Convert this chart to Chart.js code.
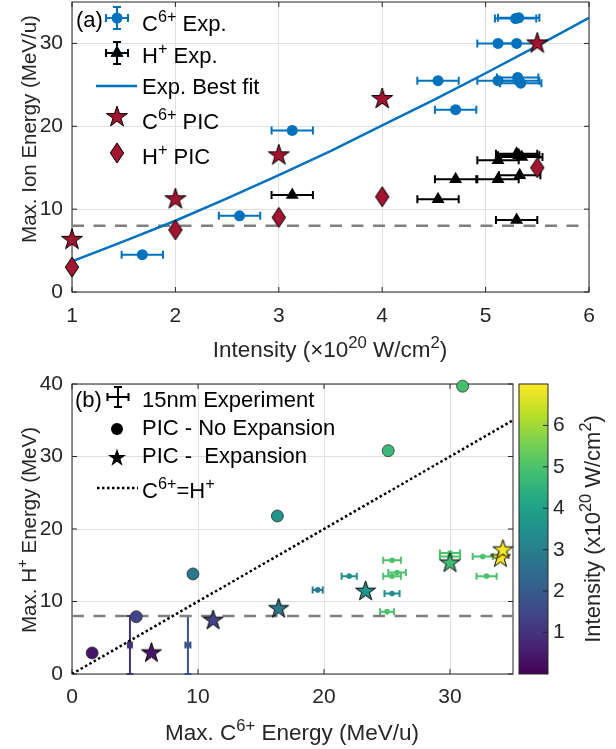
<!DOCTYPE html>
<html>
<head>
<meta charset="utf-8">
<script src="https://cdn.jsdelivr.net/npm/chart.js@4.4.0/dist/chart.umd.min.js"></script>
<style>
  html, body { margin: 0; padding: 0; background: #fff; }
  #wrap { position: relative; width: 616px; height: 749px; }
  #chartA { position: absolute; left: 0; top: 0; }
  #chartB { position: absolute; left: 0; top: 375px; }
</style>
</head>
<body>
<div id="wrap">
  <canvas id="chartA" width="616" height="375"></canvas>
  <canvas id="chartB" width="616" height="374"></canvas>
</div>
<script>
// --- Panel (a) data: intensity (x10^20 W/cm^2) vs max ion energy (MeV/u) ---
const cExpIntensity = [1.68, 2.62, 3.13, 4.54, 4.71, 5.12, 5.31, 5.34, 5.32, 5.12, 5.30, 5.29, 5.32];
const cExpEnergy    = [4.5, 9.2, 19.5, 25.5, 22.0, 25.5, 25.9, 25.2, 25.5, 30.0, 30.0, 33.0, 33.1];
const hExpIntensity = [3.13, 4.54, 4.71, 5.12, 5.33, 5.12, 5.30, 5.32, 5.35, 5.30];
const hExpEnergy    = [11.7, 11.2, 13.6, 13.6, 14.1, 15.9, 16.7, 16.5, 16.3, 8.7];
const intensityErr  = 0.2;
const fitIntensity  = [1, 1.5, 2, 2.5, 3, 3.5, 4, 4.5, 5, 5.5, 6];
const fitEnergy     = [3.7, 6.1, 8.6, 11.3, 14.1, 17.0, 20.1, 23.2, 26.4, 29.7, 33.1];
const picIntensity  = [1, 2, 3, 4, 5.5];
const picCEnergy    = [6.3, 11.2, 16.5, 23.3, 30.0];
const picHEnergy    = [3.0, 7.5, 9.0, 11.5, 15.0];
const detectLimit   = 8;
const aXTicks = [1, 2, 3, 4, 5, 6];
const aYTicks = [0, 10, 20, 30];

// --- Panel (b) data: max C6+ energy (MeV/u) vs max H+ energy (MeV) ---
const noExpC = [1.6, 5.1, 9.6, 16.3, 25.1, 31.0];
const noExpH = [2.9, 7.9, 13.8, 21.8, 30.8, 39.7];
const noExpI = [0.4, 1.4, 2.8, 3.6, 4.7, 4.9];
const expanC = [6.3, 11.2, 16.4, 23.3, 30.0, 34.0, 34.2];
const expanH = [2.9, 7.4, 9.0, 11.4, 15.3, 16.0, 17.1];
const expanI = [0.4, 1.4, 2.8, 3.6, 4.8, 6.9, 6.9];
const expC    = [4.6, 9.2, 19.5, 22.0, 25.4, 25.0, 25.4, 25.8, 25.4, 30.0, 30.0, 32.6, 32.9];
const expH    = [4.0, 4.0, 11.6, 13.5, 11.1, 8.6, 13.5, 14.0, 15.7, 16.7, 16.2, 16.2, 13.5];
const expCErr = [0.15, 0.2, 0.4, 0.6, 0.6, 0.55, 0.7, 0.7, 0.7, 0.8, 0.8, 0.8, 0.8];
const expHErr = [4, 4, 0, 0, 0, 0, 0, 0, 0, 0, 0, 0, 0];
const expI    = [1.0, 1.8, 2.9, 3.5, 3.4, 5.0, 5.0, 5.0, 5.0, 5.0, 5.0, 5.0, 5.0];
const diagC = [0, 35];
const diagH = [0, 35];
const bXTicks = [0, 10, 20, 30];
const bYTicks = [0, 10, 20, 30, 40];
const cbarMin = 0, cbarMax = 7;
const cbarTicks = [1, 2, 3, 4, 5, 6];

// --- styles ---
const FONT = '"Liberation Sans", Arial, Helvetica, sans-serif';
const blue = '#0072BD', red = '#A2142F', axisCol = '#262626', gridCol = '#e0e0e0';
const font = sz => sz + 'px ' + FONT;
const pts = (xs, ys) => xs.map((v, i) => ({x: v, y: ys[i]}));

const viridisStops = ['#440154', '#482475', '#414487', '#355f8d', '#2a788e', '#21918c',
                      '#22a884', '#44bf70', '#7ad151', '#bddf26', '#fde725'];
function hexRgb(h) { return [1, 3, 5].map(k => parseInt(h.substr(k, 2), 16)); }
function viridis(v) {
  let t = Math.min(1, Math.max(0, (v - cbarMin) / (cbarMax - cbarMin))) * 10;
  const i = Math.min(9, Math.floor(t)), f = t - i;
  const a = hexRgb(viridisStops[i]), b = hexRgb(viridisStops[i + 1]);
  return 'rgb(' + a.map((c, k) => Math.round(c + (b[k] - c) * f)).join(',') + ')';
}

// --- marker images ---
function starPath(g, cx, cy, R) {
  g.beginPath();
  for (let k = 0; k < 10; k++) {
    const r = k % 2 ? R * 0.382 : R, ang = -Math.PI / 2 + k * Math.PI / 5;
    const px = cx + r * Math.cos(ang), py = cy + r * Math.sin(ang);
    k ? g.lineTo(px, py) : g.moveTo(px, py);
  }
  g.closePath();
}
function starImage(fill, R) {
  const s = Math.ceil(2 * R + 4), c = document.createElement('canvas');
  c.width = s; c.height = s;
  const g = c.getContext('2d');
  starPath(g, s / 2, s / 2, R);
  g.fillStyle = fill; g.fill();
  g.strokeStyle = '#000'; g.lineWidth = 1; g.stroke();
  return c;
}
function diamondImage(fill, rx, ry) {
  const c = document.createElement('canvas');
  c.width = Math.ceil(2 * rx + 4); c.height = Math.ceil(2 * ry + 4);
  const g = c.getContext('2d'), cx = c.width / 2, cy = c.height / 2;
  g.beginPath();
  g.moveTo(cx, cy - ry); g.lineTo(cx + rx, cy); g.lineTo(cx, cy + ry); g.lineTo(cx - rx, cy);
  g.closePath();
  g.fillStyle = fill; g.fill();
  g.strokeStyle = '#000'; g.lineWidth = 1; g.stroke();
  return c;
}
const starRed = starImage(red, 11);
const diamondRed = diamondImage(red, 6.7, 10);

// --- text with superscripts: parts = [[text, isSup], ...] ---
function rich(ctx, parts, x, y, size, align, color) {
  const sup = size * 0.74;
  ctx.fillStyle = color; ctx.textBaseline = 'alphabetic'; ctx.textAlign = 'left';
  let w = 0;
  parts.forEach(p => { ctx.font = font(p[1] ? sup : size); w += ctx.measureText(p[0]).width; });
  let cx = align === 'center' ? x - w / 2 : x;
  parts.forEach(p => {
    ctx.font = font(p[1] ? sup : size);
    ctx.fillText(p[0], cx, p[1] ? y - size * 0.42 : y);
    cx += ctx.measureText(p[0]).width;
  });
}
function richUp(ctx, parts, x, y, size, color) {
  ctx.save(); ctx.translate(x, y); ctx.rotate(-Math.PI / 2);
  rich(ctx, parts, 0, 0, size, 'center', color);
  ctx.restore();
}

// --- frame, inward ticks and error bars ---
function drawFrame(chart, xt, yt) {
  const {ctx, chartArea: a, scales: {x, y}} = chart;
  ctx.save();
  ctx.strokeStyle = axisCol; ctx.lineWidth = 1;
  ctx.strokeRect(a.left, a.top, a.right - a.left, a.bottom - a.top);
  ctx.beginPath();
  xt.forEach(v => {
    const p = x.getPixelForValue(v);
    ctx.moveTo(p, a.bottom); ctx.lineTo(p, a.bottom - 5);
    ctx.moveTo(p, a.top); ctx.lineTo(p, a.top + 5);
  });
  yt.forEach(v => {
    const p = y.getPixelForValue(v);
    ctx.moveTo(a.left, p); ctx.lineTo(a.left + 5, p);
    ctx.moveTo(a.right, p); ctx.lineTo(a.right - 5, p);
  });
  ctx.stroke();
  ctx.restore();
}
function errBar(ctx, x, y, cx, cy, ex, ey, color, lw, cap) {
  const px = x.getPixelForValue(cx), py = y.getPixelForValue(cy);
  ctx.strokeStyle = color; ctx.lineWidth = lw;
  ctx.beginPath();
  if (ex > 0) {
    const l = x.getPixelForValue(cx - ex), r = x.getPixelForValue(cx + ex);
    ctx.moveTo(l, py); ctx.lineTo(r, py);
    ctx.moveTo(l, py - cap); ctx.lineTo(l, py + cap);
    ctx.moveTo(r, py - cap); ctx.lineTo(r, py + cap);
  }
  if (ey > 0) {
    const t = y.getPixelForValue(cy + ey), b = y.getPixelForValue(cy - ey);
    ctx.moveTo(px, t); ctx.lineTo(px, b);
    ctx.moveTo(px - cap, t); ctx.lineTo(px + cap, t);
    ctx.moveTo(px - cap, b); ctx.lineTo(px + cap, b);
  }
  ctx.stroke();
}
function iconCross(ctx, cx, cy, hw, hh, cap, color, lw) {
  ctx.strokeStyle = color; ctx.lineWidth = lw;
  ctx.beginPath();
  ctx.moveTo(cx - hw, cy); ctx.lineTo(cx + hw, cy);
  ctx.moveTo(cx - hw, cy - cap); ctx.lineTo(cx - hw, cy + cap);
  ctx.moveTo(cx + hw, cy - cap); ctx.lineTo(cx + hw, cy + cap);
  ctx.moveTo(cx, cy - hh); ctx.lineTo(cx, cy + hh);
  ctx.moveTo(cx - cap, cy - hh); ctx.lineTo(cx + cap, cy - hh);
  ctx.moveTo(cx - cap, cy + hh); ctx.lineTo(cx + cap, cy + hh);
  ctx.stroke();
}

// fixed-size axes: no extra label padding added by the layout
function fixX(h) { return s => { s.height = h; s.paddingLeft = 0; s.paddingRight = 0; }; }
function fixY(w) { return s => { s.width = w; s.paddingTop = 0; s.paddingBottom = 0; }; }

function linearAxis(min, max, ticks, fit, pad) {
  return {
    type: 'linear', min: min, max: max,
    afterBuildTicks: s => { s.ticks = ticks.map(v => ({value: v})); },
    afterFit: fit,
    grid: {color: gridCol, drawTicks: false},
    border: {display: false},
    ticks: {color: axisCol, font: {family: FONT, size: 21}, padding: pad, autoSkip: false, maxRotation: 0}
  };
}

// --- Panel (a) ---
const panelA = {
  id: 'panelA',
  beforeDatasetsDraw(chart) {
    const {ctx, scales: {x, y}} = chart;
    drawFrame(chart, aXTicks, aYTicks);
    ctx.save();
    hExpIntensity.forEach((v, i) => errBar(ctx, x, y, v, hExpEnergy[i], intensityErr, 0, '#000', 2, 4));
    cExpIntensity.forEach((v, i) => errBar(ctx, x, y, v, cExpEnergy[i], intensityErr, 0, blue, 2, 4));
    ctx.restore();
  },
  afterDraw(chart) {
    const ctx = chart.ctx, fs = 22;
    ctx.save();
    rich(ctx, [['(a)', 0]], 76, 27, fs, 'left', '#000');
    // legend
    iconCross(ctx, 117, 18, 11, 11, 4, blue, 2);
    ctx.fillStyle = blue; ctx.beginPath(); ctx.arc(117, 18, 5.5, 0, 2 * Math.PI); ctx.fill();
    iconCross(ctx, 117, 53, 11, 11, 4, '#000', 2);
    Chart.helpers.drawPoint(ctx, {pointStyle: 'triangle', radius: 7.5, borderWidth: 0, rotation: 0}, 117, 53);
    ctx.fillStyle = '#000'; ctx.fill();
    ctx.strokeStyle = blue; ctx.lineWidth = 2.5;
    ctx.beginPath(); ctx.moveTo(96, 86); ctx.lineTo(137, 86); ctx.stroke();
    ctx.drawImage(starRed, 117 - starRed.width / 2, 117 - starRed.height / 2);
    ctx.drawImage(diamondRed, 117 - diamondRed.width / 2, 153 - diamondRed.height / 2);
    rich(ctx, [['C', 0], ['6+', 1], [' Exp.', 0]], 142, 31, fs, 'left', '#000');
    rich(ctx, [['H', 0], ['+', 1], [' Exp.', 0]], 142, 63, fs, 'left', '#000');
    rich(ctx, [['Exp. Best fit', 0]], 142, 94, fs, 'left', '#000');
    rich(ctx, [['C', 0], ['6+', 1], [' PIC', 0]], 142, 129, fs, 'left', '#000');
    rich(ctx, [['H', 0], ['+', 1], [' PIC', 0]], 142, 164, fs, 'left', '#000');
    // axis titles
    rich(ctx, [['Intensity (\u00d710', 0], ['20', 1], [' W/cm', 0], ['2', 1], [')', 0]], 330, 357, 22.5, 'center', axisCol);
    richUp(ctx, [['Max. Ion Energy (MeV/u)', 0]], 36, 129, 20.5, axisCol);
    ctx.restore();
  }
};

new Chart(document.getElementById('chartA'), {
  type: 'scatter',
  data: {
    datasets: [
      {label: 'C6+ PIC', data: pts(picIntensity, picCEnergy), pointStyle: starRed, pointRadius: 11, order: 0, clip: false},
      {label: 'H+ PIC', data: pts(picIntensity, picHEnergy), pointStyle: diamondRed, pointRadius: 10, order: 1, clip: false},
      {label: 'C6+ Exp.', data: pts(cExpIntensity, cExpEnergy), backgroundColor: blue, borderWidth: 0, pointRadius: 5.5, order: 2},
      {label: 'H+ Exp.', data: pts(hExpIntensity, hExpEnergy), pointStyle: 'triangle', backgroundColor: '#000', borderWidth: 0, pointRadius: 7.5, order: 3},
      {label: 'Exp. Best fit', data: pts(fitIntensity, fitEnergy), showLine: true, pointRadius: 0, borderColor: blue, borderWidth: 2.5, order: 4},
      {label: 'limit', data: pts([1, 6], [detectLimit, detectLimit]), showLine: true, pointRadius: 0, borderColor: '#808080', borderWidth: 2.5, borderDash: [12, 9.5], order: 5}
    ]
  },
  options: {
    responsive: false, animation: false,
    layout: {autoPadding: false, padding: {top: 2, right: 27, left: 0, bottom: 0}},
    plugins: {legend: {display: false}, tooltip: {enabled: false}},
    scales: {
      x: linearAxis(1, 6, aXTicks, fixX(83), 12),
      y: linearAxis(0, 35, aYTicks, fixY(72), 9)
    }
  },
  plugins: [panelA]
});

// --- Panel (b) ---
const panelB = {
  id: 'panelB',
  beforeDatasetsDraw(chart) {
    const {ctx, scales: {x, y}} = chart;
    drawFrame(chart, bXTicks, bYTicks);
    ctx.save();
    expC.forEach((v, i) => errBar(ctx, x, y, v, expH[i], expCErr[i], expHErr[i], viridis(expI[i]), 2, 3.5));
    ctx.restore();
  },
  afterDraw(chart) {
    const {ctx, chartArea: a, scales: {c}} = chart, fs = 22;
    ctx.save();
    // colorbar
    const top = c.getPixelForValue(cbarMax), bot = c.getPixelForValue(cbarMin);
    const grad = ctx.createLinearGradient(0, bot, 0, top);
    viridisStops.forEach((s, k) => grad.addColorStop(k / 10, s));
    ctx.fillStyle = grad;
    ctx.fillRect(a.right + 6, top, 29, bot - top);
    ctx.strokeStyle = axisCol; ctx.lineWidth = 1;
    ctx.strokeRect(a.right + 6, top, 29, bot - top);
    ctx.beginPath();
    cbarTicks.forEach(v => {
      const p = c.getPixelForValue(v);
      ctx.moveTo(a.right + 35, p); ctx.lineTo(a.right + 30, p);
    });
    ctx.stroke();
    richUp(ctx, [['Intensity (x10', 0], ['20', 1], [' W/cm', 0], ['2', 1], [')', 0]], 600, 154, 22, axisCol);
    // legend
    rich(ctx, [['(b)', 0]], 75, 32, fs, 'left', '#000');
    iconCross(ctx, 118, 22, 10.5, 10, 4, '#000', 2);
    ctx.fillStyle = '#000'; ctx.beginPath(); ctx.arc(117, 54, 6, 0, 2 * Math.PI); ctx.fill();
    starPath(ctx, 117, 83, 9.5); ctx.fill();
    ctx.strokeStyle = '#000'; ctx.lineWidth = 2.5; ctx.setLineDash([2.5, 2.5]);
    ctx.beginPath(); ctx.moveTo(97, 113); ctx.lineTo(138, 113); ctx.stroke();
    ctx.setLineDash([]);
    rich(ctx, [['15nm Experiment', 0]], 142, 32, fs, 'left', '#000');
    rich(ctx, [['PIC - No Expansion', 0]], 142, 60, fs, 'left', '#000');
    rich(ctx, [['PIC -  Expansion', 0]], 142, 88, fs, 'left', '#000');
    rich(ctx, [['C', 0], ['6+', 1], ['=H', 0], ['+', 1]], 142, 123, fs, 'left', '#000');
    // axis titles
    rich(ctx, [['Max. C', 0], ['6+', 1], [' Energy (MeV/u)', 0]], 292, 365, 22.5, 'center', axisCol);
    richUp(ctx, [['Max. H', 0], ['+', 1], [' Energy (MeV)', 0]], 36, 155, 20.5, axisCol);
    ctx.restore();
  }
};

const cbarAxis = {
  type: 'linear', position: 'right', min: cbarMin, max: cbarMax,
  afterBuildTicks: s => { s.ticks = cbarTicks.map(v => ({value: v})); },
  afterFit: fixY(103),
  grid: {display: false}, border: {display: false},
  ticks: {color: axisCol, font: {family: FONT, size: 21}, padding: 32, autoSkip: false}
};

new Chart(document.getElementById('chartB'), {
  type: 'scatter',
  data: {
    datasets: [
      {label: 'PIC - Expansion', data: pts(expanC, expanH), pointStyle: expanI.map(v => starImage(viridis(v), 10.5)), pointRadius: 11, order: 0, clip: false},
      {label: 'PIC - No Expansion', data: pts(noExpC, noExpH), backgroundColor: noExpI.map(viridis), borderColor: '#333', borderWidth: 0.8, pointRadius: 6, order: 1, clip: false},
      {label: '15nm Experiment', data: pts(expC, expH), backgroundColor: expI.map(viridis), borderWidth: 0, pointRadius: 2.8, order: 2},
      {label: 'C6+=H+', data: pts(diagC, diagH), showLine: true, pointRadius: 0, borderColor: '#000', borderWidth: 2.5, borderDash: [2.5, 2.5], order: 3},
      {label: 'limit', data: pts([0, 35], [detectLimit, detectLimit]), showLine: true, pointRadius: 0, borderColor: '#808080', borderWidth: 2.5, borderDash: [12, 9.5], order: 4}
    ]
  },
  options: {
    responsive: false, animation: false,
    layout: {autoPadding: false, padding: {top: 9, right: 0, left: 0, bottom: 0}},
    plugins: {legend: {display: false}, tooltip: {enabled: false}},
    scales: {
      x: linearAxis(0, 35, bXTicks, fixX(75), 11),
      y: linearAxis(0, 40, bYTicks, fixY(72), 9),
      c: cbarAxis
    }
  },
  plugins: [panelB]
});
</script>
</body>
</html>
